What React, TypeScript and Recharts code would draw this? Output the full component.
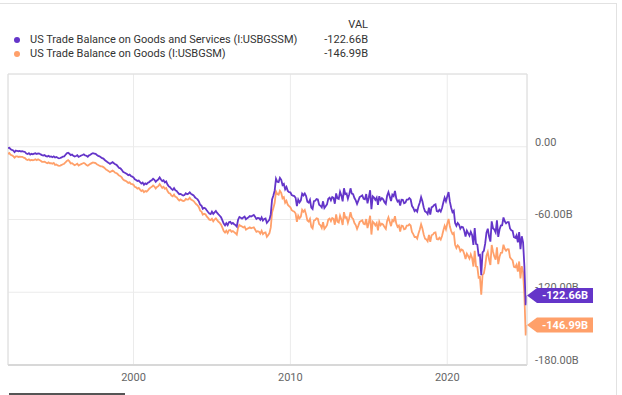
import React from "react";
import { LineChart, Line, XAxis, YAxis, CartesianGrid, ReferenceLine } from "recharts";

const startYear = 1992;

const seriesNames = [
  "US Trade Balance on Goods and Services (I:USBGSSM)",
  "US Trade Balance on Goods (I:USBGSM)",
];
const lastValueLabels = ["-122.66B", "-146.99B"];
const xTicks = [2000, 2010, 2020];
const yTicks = [-180, -120, -60, 0];

// US Trade Balance on Goods and Services, monthly, billions USD (Jan 1992 - Feb 2025)
const goodsServices = [
  -1.2, -0.8, -2.0, -2.6, -3.1, -4.4, -3.2, -3.5, -3.7, -3.4, -3.9, -3.6,
  -4.1, -4.3, -5.6, -5.9, -5.2, -6.4, -5.8, -6.2, -5.7, -5.4, -6.0, -5.5,
  -5.6, -6.3, -6.9, -7.2, -6.8, -7.7, -8.1, -7.5, -8.3, -8.0, -8.6, -7.9,
  -8.9, -8.4, -9.1, -9.6, -9.3, -8.8, -8.1, -7.9, -6.6, -5.4, -4.9, -5.8,
  -6.9, -6.4, -7.5, -8.1, -7.6, -7.0, -8.4, -7.9, -7.2, -6.8, -6.3, -7.1,
  -7.4, -8.2, -7.1, -6.6, -5.8, -5.3, -5.6, -5.9, -6.8, -7.5, -7.9, -8.6,
  -9.4, -9.8, -10.9, -11.8, -12.6, -13.3, -14.1, -13.4, -12.7, -13.6, -14.5, -14.9,
  -16.2, -17.5, -17.8, -19.0, -20.6, -21.3, -21.8, -22.5, -23.4, -23.0, -24.1, -24.6,
  -25.3, -26.8, -27.4, -28.2, -27.9, -29.1, -30.4, -29.6, -31.3, -30.2, -30.8, -29.7,
  -29.2, -28.1, -27.6, -26.4, -27.3, -28.9, -27.8, -26.9, -25.3, -27.0, -28.3, -27.6,
  -29.4, -28.6, -31.2, -32.7, -33.4, -34.8, -35.6, -34.1, -35.9, -36.4, -37.9, -39.1,
  -38.9, -39.6, -40.2, -39.8, -38.4, -39.1, -38.7, -37.6, -38.9, -39.5, -40.1, -41.7,
  -42.6, -43.4, -45.0, -47.8, -48.6, -51.2, -50.3, -50.9, -52.4, -53.8, -55.1, -55.6,
  -53.5, -55.4, -54.1, -53.0, -54.6, -55.8, -56.9, -58.2, -60.7, -63.4, -64.8, -63.1,
  -64.7, -62.3, -61.9, -63.5, -62.8, -63.9, -64.6, -65.8, -60.2, -57.9, -58.6, -59.3,
  -58.4, -57.6, -59.8, -58.9, -58.1, -57.2, -57.6, -56.9, -56.3, -57.8, -59.5, -58.7,
  -58.9, -60.3, -58.2, -60.8, -59.6, -59.2, -62.8, -61.4, -60.1, -55.6, -43.5, -40.2,
  -36.0, -26.4, -28.9, -29.2, -25.6, -27.3, -31.6, -30.7, -35.1, -33.2, -36.4, -37.4,
  -37.6, -39.8, -40.4, -40.7, -42.1, -48.9, -43.6, -45.9, -44.2, -38.7, -40.1, -38.5,
  -40.7, -45.4, -46.1, -43.7, -50.2, -51.4, -44.9, -44.6, -43.1, -43.5, -47.8, -48.7,
  -50.0, -45.0, -50.5, -49.0, -47.5, -42.9, -42.0, -44.2, -41.5, -42.2, -47.0, -38.5,
  -42.5, -43.0, -37.1, -40.3, -45.0, -34.2, -39.1, -38.6, -43.0, -39.3, -34.3, -38.7,
  -39.1, -42.3, -44.2, -47.2, -44.4, -41.5, -40.8, -40.1, -43.0, -43.4, -39.0, -46.6,
  -41.8, -35.9, -51.4, -40.9, -41.9, -43.8, -41.9, -48.0, -40.8, -43.9, -42.4, -43.4,
  -45.7, -47.1, -40.4, -37.4, -41.1, -44.7, -39.5, -40.7, -36.4, -42.6, -45.2, -44.3,
  -48.5, -43.6, -43.7, -46.6, -46.1, -43.6, -43.6, -42.4, -43.5, -48.7, -50.5, -53.1,
  -52.0, -53.5, -49.0, -46.0, -41.5, -45.0, -50.1, -53.3, -53.9, -55.5, -50.3, -56.0,
  -50.0, -49.4, -48.0, -47.5, -53.0, -53.5, -52.0, -53.5, -50.5, -46.0, -42.0, -45.0,
  -41.0, -37.4, -45.3, -50.3, -54.0, -52.7, -62.8, -65.2, -62.9, -64.2, -67.6, -66.0,
  -66.4, -69.3, -74.0, -69.1, -71.2, -73.3, -70.1, -72.8, -80.9, -67.1, -80.2, -80.7,
  -89.7, -89.2, -106.0, -87.1, -85.9, -79.9, -70.8, -67.6, -74.1, -78.2, -61.5, -67.2,
  -68.3, -70.6, -60.6, -74.4, -68.3, -65.0, -64.7, -58.3, -61.5, -63.2, -62.2, -62.2,
  -67.4, -68.9, -69.4, -74.6, -75.1, -73.0, -78.8, -70.4, -84.4, -73.8, -78.9, -98.4,
  -130.6, -122.66,
];

// US Trade Balance on Goods, monthly, billions USD (Jan 1992 - Feb 2025)
const goodsOnly = [
  -5.9, -5.2, -6.7, -7.1, -7.8, -9.0, -7.9, -8.0, -8.4, -8.1, -8.4, -8.3,
  -9.0, -9.4, -10.5, -10.9, -10.3, -11.3, -10.9, -11.1, -10.8, -10.4, -11.1, -10.4,
  -11.0, -11.6, -12.4, -12.5, -12.3, -13.0, -13.6, -12.9, -13.6, -13.5, -14.0, -13.3,
  -15.0, -14.6, -15.4, -15.7, -15.5, -15.0, -14.4, -14.0, -12.8, -11.7, -11.0, -12.1,
  -13.8, -13.5, -14.4, -15.2, -14.7, -14.0, -15.5, -14.8, -14.3, -13.8, -13.4, -14.0,
  -15.1, -15.7, -14.8, -14.1, -13.5, -12.9, -13.2, -13.4, -14.5, -15.0, -15.6, -16.2,
  -16.2, -16.8, -17.7, -18.8, -19.4, -20.1, -21.0, -20.3, -19.7, -20.4, -21.5, -21.8,
  -22.7, -23.8, -24.3, -25.3, -27.0, -27.8, -28.1, -28.9, -29.8, -29.4, -30.6, -30.9,
  -31.4, -33.1, -33.5, -34.5, -34.0, -35.4, -36.6, -35.9, -37.4, -36.5, -37.0, -35.9,
  -34.6, -33.7, -33.0, -31.9, -32.8, -34.4, -33.2, -32.5, -30.8, -32.4, -33.9, -33.0,
  -34.6, -34.0, -36.5, -38.1, -38.6, -40.2, -40.8, -39.4, -41.3, -41.6, -43.2, -44.3,
  -43.5, -44.3, -44.7, -44.5, -43.0, -43.6, -43.4, -42.1, -43.5, -44.1, -44.8, -46.2,
  -47.5, -48.3, -49.9, -52.8, -53.5, -56.0, -55.3, -55.7, -57.4, -58.6, -60.1, -60.4,
  -59.4, -61.5, -60.0, -59.1, -60.5, -61.9, -62.8, -64.3, -66.7, -69.5, -70.7, -69.2,
  -71.2, -68.9, -68.6, -70.1, -69.5, -70.4, -71.3, -72.4, -66.9, -64.5, -65.3, -65.8,
  -66.6, -65.9, -68.4, -67.6, -67.1, -66.5, -67.2, -66.8, -66.5, -68.3, -70.2, -69.6,
  -70.0, -71.6, -69.3, -72.1, -71.0, -70.6, -74.3, -72.9, -71.2, -66.5, -54.2, -50.6,
  -46.2, -36.8, -39.0, -39.5, -36.4, -38.1, -42.5, -41.6, -46.2, -44.6, -47.8, -49.0,
  -49.9, -52.3, -53.0, -53.5, -55.1, -62.0, -56.9, -59.0, -57.6, -52.0, -53.6, -52.2,
  -55.8, -60.9, -61.8, -59.5, -66.0, -67.3, -60.9, -60.5, -59.0, -59.4, -63.8, -64.7,
  -67.0, -62.2, -67.7, -66.3, -64.7, -60.1, -59.3, -61.4, -58.8, -59.5, -64.3, -55.7,
  -61.8, -62.5, -56.8, -59.9, -64.5, -53.9, -58.6, -58.2, -62.6, -58.9, -54.0, -58.4,
  -59.5, -62.9, -64.6, -67.8, -65.0, -62.0, -61.3, -60.7, -63.5, -63.9, -59.6, -67.1,
  -62.6, -56.9, -72.4, -61.8, -62.9, -64.8, -62.9, -69.0, -61.9, -64.8, -63.5, -64.3,
  -66.3, -67.8, -61.2, -58.3, -61.9, -65.5, -60.4, -61.5, -57.3, -63.4, -66.1, -65.0,
  -70.0, -65.0, -65.3, -68.1, -67.7, -65.1, -65.0, -64.0, -65.0, -70.2, -72.1, -74.5,
  -74.3, -75.8, -71.5, -68.3, -64.0, -67.4, -72.4, -75.8, -76.4, -77.9, -72.7, -78.5,
  -73.0, -72.5, -71.0, -70.6, -76.1, -76.4, -75.1, -76.6, -73.6, -69.1, -65.2, -68.1,
  -63.5, -59.5, -65.8, -69.5, -72.0, -71.0, -80.8, -83.5, -81.4, -82.6, -86.2, -84.8,
  -85.5, -88.3, -92.6, -88.2, -90.1, -92.3, -88.8, -91.7, -98.8, -85.9, -98.6, -99.0,
  -108.0, -107.5, -122.0, -105.8, -104.5, -98.5, -89.8, -86.8, -93.0, -97.5, -81.0, -86.5,
  -90.5, -93.2, -83.0, -96.8, -90.8, -87.4, -87.3, -80.8, -84.2, -85.8, -84.5, -84.6,
  -91.2, -92.6, -93.8, -99.0, -99.4, -97.3, -103.0, -94.6, -108.6, -98.5, -103.5, -122.0,
  -155.6, -146.99,
];

const PURPLE = "#6435c9";
const ORANGE = "#ffa06a";
const FONT = "Roboto, 'Noto Sans', Arial, sans-serif";

const data = goodsServices.map((v, i) => ({
  t: startYear + i / 12,
  gs: v,
  g: goodsOnly[i],
}));
const lastIndex = data.length - 1;
const xMin = data[0].t;
const xMax = data[lastIndex].t;

const fmtY = (v: number) => (v === 0 ? "0.00" : `${v.toFixed(2)}B`);

const YTick = (props: any) => {
  const { x, y, payload } = props;
  return (
    <text x={x} y={y - 5} dy="0.35em" fill="#666" fontSize={11} fontFamily={FONT} textAnchor="start">
      {fmtY(payload.value)}
    </text>
  );
};

const XTick = (props: any) => {
  const { x, y, payload } = props;
  return (
    <text x={x} y={y} dy="0.71em" fill="#666" fontSize={11} fontFamily={FONT} textAnchor="middle">
      {String(payload.value)}
    </text>
  );
};

const makeBadge = (color: string, text: string) => (props: any) => {
  const { x, y, index } = props;
  if (index !== lastIndex || x == null || y == null) return null;
  const h = 7.5;
  const x0 = x;
  const x1 = x + 10;
  const x2 = x + 66;
  const pts = `${x0},${y} ${x1},${y - h} ${x2},${y - h} ${x2},${y + h} ${x1},${y + h}`;
  return (
    <g>
      <polygon points={pts} fill={color} />
      <text
        x={(x1 + x2) / 2}
        y={y}
        dy="0.36em"
        fill="#fff"
        fontSize={11}
        fontWeight="bold"
        fontFamily={FONT}
        textAnchor="middle"
      >
        {text}
      </text>
    </g>
  );
};

export default function App() {
  return (
    <div
      style={{
        position: "absolute",
        left: 0,
        top: 0,
        width: 622,
        height: 395,
        background: "#fff",
        fontFamily: FONT,
        overflow: "hidden",
      }}
    >
      <div
        style={{
          position: "absolute",
          left: 0,
          top: 3,
          width: 617,
          height: 400,
          borderTop: "1px solid #e2e2e2",
          borderRight: "1px solid #e2e2e2",
          boxSizing: "border-box",
        }}
      />
      <div style={{ position: "absolute", left: 300, top: 18, width: 68, textAlign: "right", fontSize: 11, color: "#333", lineHeight: "14px" }}>
        VAL
      </div>
      {seriesNames.map((name, i) => (
        <React.Fragment key={name}>
          <div
            style={{
              position: "absolute",
              left: 14,
              top: 37 + i * 13.5,
              width: 6,
              height: 6,
              borderRadius: 3,
              background: i === 0 ? PURPLE : ORANGE,
            }}
          />
          <div style={{ position: "absolute", left: 30, top: 33 + i * 13.5, fontSize: 11, color: "#333", lineHeight: "14px", whiteSpace: "nowrap" }}>
            {name}
          </div>
          <div style={{ position: "absolute", left: 300, top: 33 + i * 13.5, width: 68, textAlign: "right", fontSize: 11, color: "#333", lineHeight: "14px" }}>
            {lastValueLabels[i]}
          </div>
        </React.Fragment>
      ))}
      <div style={{ position: "absolute", left: 9, top: 393, width: 116, height: 2, background: "#555" }} />
      <div style={{ position: "absolute", left: 0, top: 0 }}>
        <LineChart width={622} height={395} data={data} margin={{ top: 74, right: 35, bottom: 0, left: 8 }}>
          <CartesianGrid stroke="#ebebeb" strokeWidth={1} />
          <XAxis
            dataKey="t"
            type="number"
            domain={[xMin, xMax]}
            ticks={xTicks}
            allowDataOverflow
            axisLine={{ stroke: "#d8d8d8", strokeWidth: 2 }}
            tickLine={false}
            tick={<XTick />}
            height={30}
          />
          <YAxis
            orientation="right"
            type="number"
            domain={[-180, 60]}
            ticks={yTicks}
            allowDataOverflow
            axisLine={{ stroke: "#dedede" }}
            tickLine={false}
            tick={<YTick />}
            width={60}
          />
          <ReferenceLine y={60} stroke="#dedede" />
          <ReferenceLine x={xMin} stroke="#dedede" />
          <Line
            type="linear"
            dataKey="g"
            stroke={ORANGE}
            strokeWidth={1.8}
            dot={false}
            isAnimationActive={false}
            label={makeBadge(ORANGE, lastValueLabels[1])}
          />
          <Line
            type="linear"
            dataKey="gs"
            stroke={PURPLE}
            strokeWidth={1.8}
            dot={false}
            isAnimationActive={false}
            label={makeBadge(PURPLE, lastValueLabels[0])}
          />
        </LineChart>
      </div>
    </div>
  );
}
